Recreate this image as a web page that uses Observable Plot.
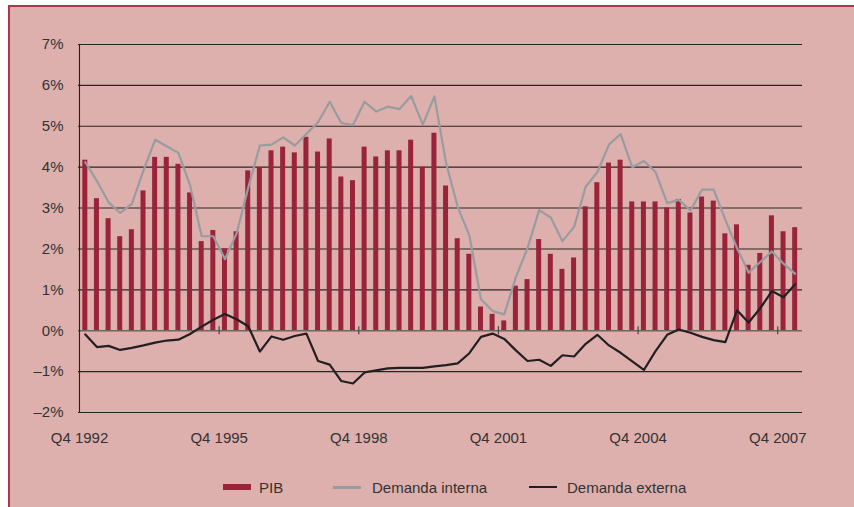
<!DOCTYPE html>
<html>
<head>
<meta charset="utf-8">
<script src="https://cdn.jsdelivr.net/npm/d3@7"></script>
<script src="https://cdn.jsdelivr.net/npm/@observablehq/plot@0.6"></script>
<style>
  html, body { margin: 0; padding: 0; background: #ffffff; width: 854px; height: 507px; overflow: hidden; }
  #panel { position: absolute; left: 8px; top: 5px; width: 860px; height: 520px; background: #ddb0ad;
           border-top: 2px solid #a8384a; border-left: 2px solid #a8384a; }
  #chart { position: absolute; left: 0; top: 0; }
  #legend { position: absolute; left: 0; top: 476px; width: 854px; height: 24px;
            font-family: 'Liberation Sans', Arial, sans-serif; font-size: 15px; color: #333; }
  .item { position: absolute; top: 0; height: 22px; display: flex; align-items: center; }
  .sw { width: 28px; margin-right: 8px; }
</style>
</head>
<body>
<div id="panel"></div>
<div id="chart"></div>
<div id="legend">
  <div class="item" style="left:223px"><div class="sw" style="height:6px;background:#98233a"></div><span>PIB</span></div>
  <div class="item" style="left:333px"><div class="sw" style="height:3px;background:#999c9e;margin-right:11px"></div><span>Demanda interna</span></div>
  <div class="item" style="left:529px"><div class="sw" style="height:2.5px;background:#231f20;margin-right:10px"></div><span>Demanda externa</span></div>
</div>
<script>
const quarters = [
  "Q4 1992",
  "Q1 1993","Q2 1993","Q3 1993","Q4 1993",
  "Q1 1994","Q2 1994","Q3 1994","Q4 1994",
  "Q1 1995","Q2 1995","Q3 1995","Q4 1995",
  "Q1 1996","Q2 1996","Q3 1996","Q4 1996",
  "Q1 1997","Q2 1997","Q3 1997","Q4 1997",
  "Q1 1998","Q2 1998","Q3 1998","Q4 1998",
  "Q1 1999","Q2 1999","Q3 1999","Q4 1999",
  "Q1 2000","Q2 2000","Q3 2000","Q4 2000",
  "Q1 2001","Q2 2001","Q3 2001","Q4 2001",
  "Q1 2002","Q2 2002","Q3 2002","Q4 2002",
  "Q1 2003","Q2 2003","Q3 2003","Q4 2003",
  "Q1 2004","Q2 2004","Q3 2004","Q4 2004",
  "Q1 2005","Q2 2005","Q3 2005","Q4 2005",
  "Q1 2006","Q2 2006","Q3 2006","Q4 2006",
  "Q1 2007","Q2 2007","Q3 2007","Q4 2007",
  "Q1 2008"
];

const pib = [
  4.17,
  3.23, 2.74, 2.30, 2.47,
  3.42, 4.24, 4.24, 4.07,
  3.37, 2.18, 2.45, 2.00,
  2.42, 3.91, 3.99, 4.40,
  4.49, 4.35, 4.73, 4.37,
  4.69, 3.76, 3.67, 4.49,
  4.25, 4.40, 4.40, 4.66,
  4.00, 4.83, 3.54, 2.25,
  1.87, 0.58, 0.40, 0.24,
  1.09, 1.25, 2.23, 1.87,
  1.50, 1.78, 3.03, 3.62,
  4.10, 4.17, 3.15, 3.15,
  3.15, 3.00, 3.21, 2.88,
  3.27, 3.17, 2.37, 2.59,
  1.60, 1.89, 2.81, 2.42,
  2.52
];

const demandaInterna = [
  4.12,
  3.66, 3.14, 2.88, 3.10,
  3.92, 4.67, 4.51, 4.35,
  3.56, 2.31, 2.31, 1.75,
  2.38, 3.50, 4.53, 4.55,
  4.73, 4.53, 4.81, 5.10,
  5.60, 5.08, 5.03, 5.60,
  5.36, 5.48, 5.42, 5.74,
  5.04, 5.73, 4.10, 3.03,
  2.33, 0.77, 0.48, 0.40,
  1.31, 2.02, 2.95, 2.77,
  2.19, 2.54, 3.52, 3.88,
  4.55, 4.81, 4.00, 4.15,
  3.88, 3.12, 3.20, 2.94,
  3.45, 3.45, 2.71, 2.02,
  1.42, 1.68, 1.94, 1.64,
  1.39
];

const demandaExterna = [
  -0.09,
  -0.40, -0.37, -0.47, -0.42,
  -0.36, -0.29, -0.24, -0.22,
  -0.08, 0.10, 0.27, 0.41,
  0.28, 0.11, -0.51, -0.14,
  -0.22, -0.13, -0.07, -0.74,
  -0.83, -1.23, -1.29, -1.02,
  -0.97, -0.92, -0.91, -0.91,
  -0.91, -0.87, -0.84, -0.80,
  -0.55, -0.15, -0.07, -0.20,
  -0.48, -0.74, -0.71, -0.86,
  -0.60, -0.63, -0.32, -0.10,
  -0.36, -0.54, -0.75, -0.96,
  -0.50, -0.10, 0.03, -0.05,
  -0.15, -0.23, -0.28, 0.50,
  0.20, 0.55, 0.97, 0.82,
  1.14
];

const xTickLabels = ["Q4 1992", "Q4 1995", "Q4 1998", "Q4 2001", "Q4 2004", "Q4 2007"];
const yTicks = [-2, -1, 0, 1, 2, 3, 4, 5, 6, 7];

const data = quarters.map((q, i) => ({q, pib: pib[i], interna: demandaInterna[i], externa: demandaExterna[i]}));

const W = 854, H = 470, mL = 79, mR = 53.5, mT = 44, mB = 58;
const step = (W - mL - mR) / quarters.length;
const fmtPct = d => (d < 0 ? "\u2013" + (-d) : String(d)) + "%";

const chart = Plot.plot({
  width: W, height: H,
  marginLeft: mL, marginRight: mR, marginTop: mT, marginBottom: mB,
  style: {background: "transparent", fontFamily: "'Liberation Sans', Arial, sans-serif", fontSize: "15px", color: "#333", overflow: "visible"},
  x: {type: "band", domain: quarters, paddingInner: 0.57, paddingOuter: 0.285, axis: null},
  y: {domain: [-2, 7], axis: null},
  marks: [
    Plot.ruleY(yTicks.filter(d => d !== 0), {stroke: "#2b2626", strokeWidth: 1.1, insetLeft: -1, insetRight: -1.5}),
    Plot.barY(data, {x: "q", y: "pib", fill: "#98233a"}),
    Plot.ruleY([0], {stroke: "#6e6464", strokeWidth: 1.6, insetLeft: -1, insetRight: -1.5}),
    Plot.ruleX(xTickLabels.slice(1), {x: d => d, y1: -0.1, y2: 0.1, dx: -step / 2, stroke: "#4a4444", strokeWidth: 1.2}),
    Plot.ruleX([quarters[0]], {x: d => d, dx: -step / 2, stroke: "#231f20", strokeWidth: 1.1}),
    Plot.lineY(data, {x: "q", y: "interna", stroke: "#999c9e", strokeWidth: 2.2}),
    Plot.lineY(data, {x: "q", y: "externa", stroke: "#231f20", strokeWidth: 2.2}),
    Plot.axisY({ticks: yTicks, tickSize: 0, tickPadding: 16, tickFormat: fmtPct, fill: "#333", label: null}),
    Plot.axisX({ticks: xTickLabels, tickSize: 0, tickPadding: 20, dx: -step / 2, fill: "#333", label: null})
  ]
});
document.getElementById("chart").appendChild(chart);
</script>
</body>
</html>
